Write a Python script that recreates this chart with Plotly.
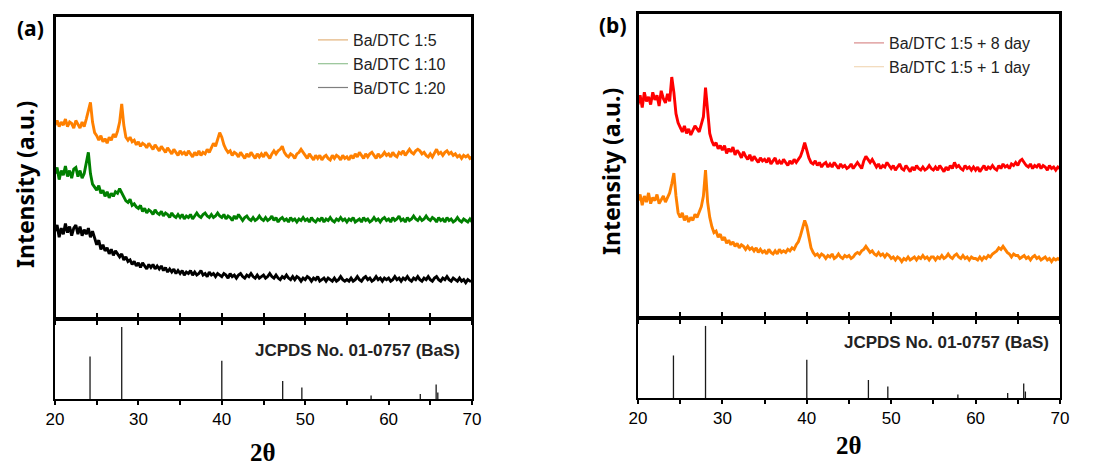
import plotly.graph_objects as go

# ---------------- data ----------------
two_theta = [20 + 0.25 * i for i in range(201)]

a_1_5 = [64, 65.5, 63.5, 65, 64, 66, 63.5, 65, 64.5, 63, 65.5, 64, 63, 65, 63.5, 66, 69, 71.5, 65, 61.5,
         60.5, 59, 60.5, 58.5, 59.5, 58, 60, 59, 61, 60, 62, 65, 71, 64, 60, 59, 60, 58.5, 59, 57.5,
         58.5, 57, 58, 57.5, 56.5, 58, 57, 56, 57.5, 56.5, 55.5, 57, 56, 55, 56.5, 55.5, 54.5, 56, 55, 54,
         55.5, 54.5, 55, 54, 55.5, 54.5, 53.5, 55, 54, 55.5, 54, 55, 54.5, 56, 55, 56.5, 58, 57, 59.5, 61.5,
         60, 57.5, 56, 55, 55.5, 54, 55, 54.5, 53.5, 55, 54, 53, 54.5, 53.5, 55, 54, 53, 54.5, 53.5, 54.5,
         53.5, 55, 54, 53, 54.5, 55.5, 54.5, 55.5, 56, 57, 55, 54, 53.5, 54.5, 54, 53, 54.5, 55, 56, 55,
         54, 53, 54.5, 53.5, 52.5, 54, 53, 54, 52.5, 53.5, 54, 53, 52.5, 54, 53, 54, 53.5, 52.5, 54, 53,
         53.5, 52.5, 54, 53, 54.5, 53.5, 55, 54, 53, 54.5, 53.5, 54.5, 55, 54, 53, 54.5, 53.5, 54, 55, 54,
         54.5, 53.5, 55, 54, 53.5, 55, 54.5, 55.5, 54, 55, 56, 55, 54.5, 55.5, 56, 55.5, 54.5, 55, 54, 53.5,
         54.5, 53.5, 55, 56, 54.5, 55, 54, 55, 55.5, 54.5, 55, 54, 54.5, 53.5, 54, 53, 54, 53.5, 54, 53,
         53.5]

a_1_10 = [48, 50, 46, 49, 47.5, 50.5, 47, 49, 46.5, 49.5, 50, 47, 49, 46.5, 48, 52, 55, 48, 44.5, 43.5,
          42.5, 44, 41.5, 42.5, 40.5, 42, 40, 41.5, 40.5, 42, 41.5, 43, 41.5, 40, 39, 38.5, 39.5, 37.5, 38, 37,
          36.5, 37.5, 35.5, 36.5, 35, 36, 35.5, 34.5, 36, 35, 34.5, 35.5, 34, 35, 34.5, 33.5, 35, 34, 33.5, 34.5,
          33.5, 34.5, 33, 34, 33.5, 34.5, 33, 34, 35, 34, 33.5, 34.5, 35, 34, 33.5, 34.5, 33.5, 34, 35, 34,
          33.5, 34.5, 33, 34, 33.5, 32.5, 34, 33, 34.5, 33.5, 32.5, 33.5, 34, 33, 32.5, 33.5, 32.5, 33, 34, 33,
          32.5, 33.5, 32.5, 33, 34, 32.5, 33.5, 32, 33, 33.5, 32.5, 33, 32, 33.5, 32.5, 33, 32, 33, 32.5, 33.5,
          32.5, 33, 32, 33.5, 32.5, 32, 33, 32.5, 33.5, 32, 33, 32.5, 33.5, 32.5, 32, 33, 32.5, 33.5, 32.5, 33,
          32, 33, 32.5, 33.5, 32, 32.5, 33, 32, 33.5, 32.5, 33, 32, 32.5, 33.5, 32.5, 33, 32, 33, 33.5, 32.5,
          33, 32, 33.5, 32.5, 33, 34, 32.5, 33, 32, 33.5, 32.5, 33, 34, 33, 32.5, 33.5, 32.5, 33, 34, 33,
          32.5, 33.5, 33, 32, 33.5, 32.5, 33, 32, 33.5, 32.5, 33, 32, 32.5, 33.5, 32.5, 32, 33, 32.5, 32, 33,
          32]

a_1_20 = [29, 31, 27, 30, 28, 31.5, 28.5, 30.5, 27.5, 30, 31, 28, 30.5, 27.5, 29.5, 28, 30, 27, 29, 26.5,
          24.5, 26, 23, 24.5, 22.5, 23.5, 21.5, 23, 21, 22.5, 21.5, 20.5, 21.5, 19.5, 20.5, 19, 19.5, 18, 19, 17.5,
          18.5, 17, 18.5, 17.5, 16.5, 18, 17, 18, 16.5, 17.5, 16.5, 17.5, 16, 17, 15.5, 16.5, 15.5, 16.5, 15, 16,
          15, 16, 14.5, 15.5, 15, 16, 14.5, 15.5, 14.5, 15, 16, 14.5, 15, 14, 15.5, 14.5, 15, 14, 15, 14.5,
          14, 15, 14.5, 13.5, 15, 14, 14.5, 13.5, 14.5, 15, 14, 13.5, 14.5, 14, 15, 14, 13.5, 14.5, 13.5, 14,
          14.5, 13.5, 14, 15, 14, 13.5, 14.5, 13.5, 13, 14, 13.5, 14.5, 13.5, 13, 14, 13, 14, 13.5, 12.5, 13.5,
          13, 14, 13.5, 12.5, 13.5, 13, 14, 12.5, 13, 13.5, 12.5, 13.5, 13, 12.5, 13.5, 12.5, 13, 14, 13, 12.5,
          13, 12.5, 13.5, 12.5, 13, 14, 13, 12.5, 13.5, 14, 13, 13.5, 12.5, 13, 14, 13, 13.5, 12.5, 13.5, 13,
          13.5, 12.5, 13, 14, 13, 13.5, 12.5, 13.5, 13, 14, 13, 12.5, 13.5, 13, 14, 13, 12.5, 13.5, 13, 14,
          13, 12.5, 13.5, 14, 13, 12.5, 13.5, 13, 14, 13, 12.5, 13.5, 13, 12.5, 13.5, 12.5, 13, 12, 13, 12.5,
          12.5]

b_8day = [70, 73, 69, 74, 71, 72.5, 70, 74, 71.5, 73, 69.5, 74.5, 72, 70.5, 73.5, 71, 79, 74, 67, 64,
          62.5, 61, 63, 60.5, 62, 60, 61.5, 63, 62, 61, 63.5, 66, 75.5, 68, 60.5, 58, 56.5, 57.5, 55.5, 56.5,
          55, 56.5, 54, 55.5, 54.5, 56, 53.5, 55, 54, 52.5, 54.5, 53, 52, 53.5, 51.5, 53, 52, 51, 52.5, 51.5,
          52, 51, 52.5, 50.5, 51.5, 52.5, 50.5, 51.5, 50.5, 52, 51, 50, 51.5, 50.5, 52, 51, 52, 53, 55, 57.5,
          55, 52.5, 51, 50.5, 51.5, 50, 51, 49.5, 50.5, 51, 49.5, 50.5, 49.5, 51, 50, 49, 50.5, 49.5, 50, 49,
          49.5, 50.5, 49, 50, 51, 50, 49, 51.5, 53, 52, 51, 52, 50.5, 49.5, 50.5, 49, 50, 49.5, 51, 50,
          49, 50, 48.5, 49.5, 50.5, 49, 48.5, 50, 49, 48, 49.5, 48.5, 50, 49, 48.5, 49.5, 48.5, 49, 50, 49,
          48.5, 49.5, 48.5, 50, 49, 48, 49.5, 48.5, 50, 49, 51, 49.5, 50, 49, 48.5, 50, 49, 49.5, 48.5, 49.5,
          48.5, 49.5, 48, 49, 50, 48.5, 49.5, 49, 50, 49, 48.5, 50, 49, 50.5, 49.5, 50, 49, 50.5, 50, 51,
          50, 51.5, 52, 51, 50, 49.5, 50.5, 49, 50, 49.5, 50.5, 49, 50, 49.5, 48.5, 50, 49, 49.5, 48.5, 49.5,
          49]

b_1day = [38.5, 40.5, 37, 40, 38, 41, 37.5, 39.5, 38.5, 40.5, 37.5, 39, 40, 38, 39.5, 41, 44, 47.5, 40, 34.5,
          33, 34.5, 32, 33.5, 31.5, 33, 32, 34, 33, 35, 36.5, 40, 48.5, 38, 33, 30, 28, 28.5, 26.5, 27.5,
          25.5, 26.5, 24.5, 25.5, 24, 25, 23.5, 24.5, 23, 24, 23.5, 22.5, 23.5, 22.5, 23, 22, 23, 21.5, 22.5, 21.5,
          22, 21, 22.5, 21.5, 21, 22, 21, 22.5, 21.5, 22, 21.5, 22.5, 22, 23, 22.5, 24, 25, 27, 30, 32,
          30, 26, 23, 21.5, 20.5, 21, 20, 21, 20.5, 19.5, 20.5, 20, 21, 19.5, 20, 21, 20, 19.5, 20.5, 20,
          20.5, 19.5, 20, 21, 21.5, 21, 22, 22.5, 23.5, 22.5, 21.5, 22, 21, 20.5, 21.5, 20.5, 21, 20, 21, 20.5,
          19.5, 20, 19, 20, 19.5, 18.5, 19.5, 19, 20, 19, 19.5, 20, 19, 20, 19.5, 20.5, 19.5, 20, 19, 20,
          20, 19, 20, 19.5, 20.5, 19.5, 20, 21, 20, 19.5, 20.5, 21, 20, 19.5, 20.5, 19.5, 20, 19, 20, 19.5,
          19.5, 19, 20, 19, 20, 19.5, 20.5, 20, 21, 21.5, 22, 23, 22.5, 23.5, 22.5, 21.5, 21, 20, 21, 20.5,
          20.5, 19.5, 20, 20.5, 19.5, 20, 19, 20, 20.5, 19.5, 20, 19, 19.5, 20, 19, 19.5, 18.5, 19.5, 19, 19.5,
          19]

# JCPDS No. 01-0757 (BaS) reference lines
ref_pos = [24.2, 28.0, 40.0, 47.3, 49.6, 57.9, 63.8, 65.7, 65.9]
ref_int = [59, 100, 53, 25, 16, 5, 7, 20, 9]

tick_vals = [20, 25, 30, 35, 40, 45, 50, 55, 60, 65, 70]
tick_text = ["20", "", "30", "", "40", "", "50", "", "60", "", "70"]

# ---------------- figure ----------------
fig = go.Figure()

def stick_xy(pos, inten):
    xs, ys = [], []
    for p, h in zip(pos, inten):
        xs += [p, p, None]
        ys += [0, h, None]
    return xs, ys

panels = [
    dict(xa="x", ya="y", xb="x2", yb="y2", legend="legend",
         series=[(a_1_5, "#FF8000", "#E2B27A", "Ba/DTC 1:5"),
                 (a_1_10, "#008000", "#93C293", "Ba/DTC 1:10"),
                 (a_1_20, "#000000", "#7F7F7F", "Ba/DTC 1:20")]),
    dict(xa="x3", ya="y3", xb="x4", yb="y4", legend="legend2",
         series=[(b_8day, "#FF0000", "#D98A8A", "Ba/DTC 1:5 + 8 day"),
                 (b_1day, "#FF8000", "#F2D9B8", "Ba/DTC 1:5 + 1 day")]),
]

for pn in panels:
    for vals, col, legcol, name in pn["series"]:
        fig.add_trace(go.Scatter(x=two_theta, y=vals, mode="lines", xaxis=pn["xa"], yaxis=pn["ya"],
                                 line=dict(color=col, width=2.9), showlegend=False, hoverinfo="skip"))
    for vals, col, legcol, name in pn["series"]:
        fig.add_trace(go.Scatter(x=[None], y=[None], mode="lines", xaxis=pn["xa"], yaxis=pn["ya"],
                                 line=dict(color=legcol, width=1.2), name=name, legend=pn["legend"]))
    sx, sy = stick_xy(ref_pos, ref_int)
    fig.add_trace(go.Scatter(x=sx, y=sy, mode="lines", xaxis=pn["xb"], yaxis=pn["yb"],
                             line=dict(color="#1a1a1a", width=1.3), showlegend=False, hoverinfo="skip"))

# page body has an 8px margin: figure pixel = screen pixel - 8
OFF = 8
W, H = 1078, 458
def px_x(v): return (v - OFF) / W
def px_y(v): return 1 - (v - OFF) / H

axis_common = dict(showline=True, linecolor="black", linewidth=2, showgrid=False, zeroline=False,
                   automargin=False)
xa_main = dict(axis_common, range=[20, 70], mirror=True, ticks="outside", tickvals=tick_vals,
               ticklen=4, tickwidth=1.5, tickcolor="black", showticklabels=False)
xa_bot = dict(axis_common, range=[20, 70], mirror="ticks", ticks="outside", tickvals=tick_vals,
              ticktext=tick_text, ticklen=4, tickwidth=1.5, tickcolor="black",
              tickfont=dict(family="Liberation Sans, Arial", size=17, color="black"))
ya_main = dict(axis_common, range=[0, 100], mirror=True, ticks="", showticklabels=False)
ya_bot = dict(axis_common, range=[0, 111], mirror=True, ticks="", showticklabels=False)

a_dom = [px_x(55), px_x(472)]
b_dom = [px_x(638), px_x(1060)]

fig.update_layout(
    template="none",
    width=W, height=H, margin=dict(l=0, r=0, t=0, b=0, pad=0), autosize=False,
    paper_bgcolor="white", plot_bgcolor="white",
    xaxis=dict(xa_main, domain=a_dom, anchor="y"),
    yaxis=dict(ya_main, domain=[px_y(319), px_y(16)], anchor="x"),
    xaxis2=dict(xa_bot, domain=a_dom, anchor="y2"),
    yaxis2=dict(ya_bot, domain=[px_y(399), px_y(319)], anchor="x2"),
    xaxis3=dict(xa_main, domain=b_dom, anchor="y3"),
    yaxis3=dict(ya_main, domain=[px_y(318), px_y(13)], anchor="x3"),
    xaxis4=dict(xa_bot, domain=b_dom, anchor="y4"),
    yaxis4=dict(ya_bot, domain=[px_y(398), px_y(318)], anchor="x4"),
    legend=dict(x=px_x(313), y=px_y(23), xanchor="left", yanchor="top", bgcolor="rgba(0,0,0,0)",
                font=dict(family="Liberation Sans, Arial", size=16, color="#222"), tracegroupgap=0),
    legend2=dict(x=px_x(849), y=px_y(26), xanchor="left", yanchor="top", bgcolor="rgba(0,0,0,0)",
                 font=dict(family="Liberation Sans, Arial", size=16, color="#222"), tracegroupgap=0),
)

# frame around the pattern panels
for xr, yr in (("x domain", "y domain"), ("x3 domain", "y3 domain")):
    fig.add_shape(type="rect", xref=xr, yref=yr, x0=0, x1=1, y0=0, y1=1,
                  line=dict(color="black", width=2), layer="above")

ann = []
label_font = dict(family="Noto Sans, Liberation Sans", size=23, color="black")
def paper_ann(text, x, y, font, angle=0):
    return dict(text=text, x=px_x(x), y=px_y(y), xref="paper", yref="paper", xanchor="center",
                yanchor="middle", textangle=angle, showarrow=False, font=font, borderpad=0)

ann.append(paper_ann("<b>(a)</b>", 30, 28, dict(family="Noto Sans", size=21, color="black")))
ann.append(paper_ann("<b>(b)</b>", 613, 25, dict(family="Noto Sans", size=21, color="black")))
ann.append(paper_ann("<b>Intensity (a.u.)</b>", 25, 185, label_font, -90))
ann.append(paper_ann("<b>Intensity (a.u.)</b>", 611, 172, label_font, -90))
ann.append(dict(text="<b>JCPDS No. 01-0757 (BaS)</b>", x=0.976, y=0.61, xref="x2 domain", yref="y2 domain",
                xanchor="right", yanchor="middle", showarrow=False,
                font=dict(family="Liberation Sans, Arial", size=17, color="#222")))
ann.append(dict(text="<b>JCPDS No. 01-0757 (BaS)</b>", x=0.979, y=0.69, xref="x4 domain", yref="y4 domain",
                xanchor="right", yanchor="middle", showarrow=False,
                font=dict(family="Liberation Sans, Arial", size=17, color="#222")))
theta_font = dict(family="Liberation Serif, Times New Roman", size=25, color="black")
ann.append(paper_ann("<b>2θ</b>", 263, 452, theta_font))
ann.append(paper_ann("<b>2θ</b>", 849, 445, theta_font))
fig.update_layout(annotations=ann)

fig.write_html("out.html")
